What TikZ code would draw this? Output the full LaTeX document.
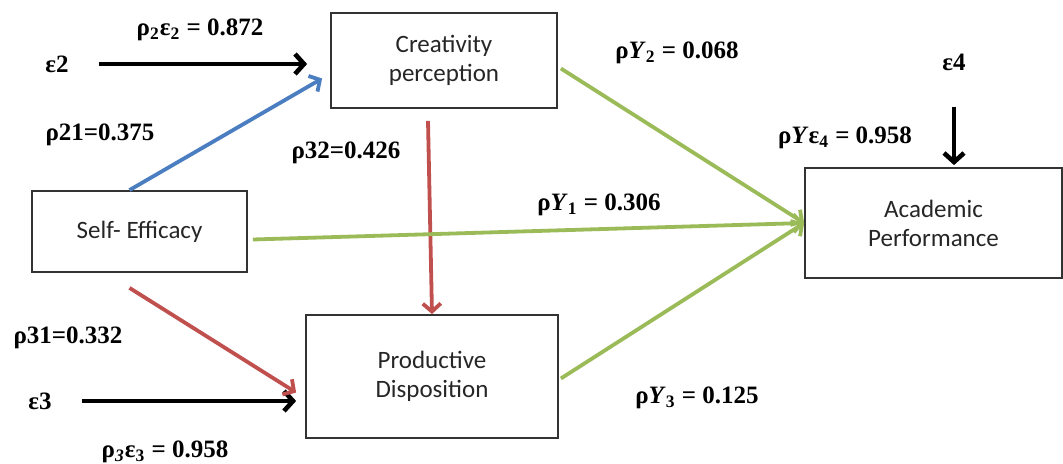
\documentclass[tikz,border=0pt]{standalone}
\usepackage{fontspec}
\setmainfont{Liberation Serif}
\newfontfamily\boxfont{Carlito}
\usetikzlibrary{arrows.meta,calc,positioning}

\definecolor{pathblue}{RGB}{74,126,193}
\definecolor{pathred}{RGB}{192,80,77}
\definecolor{pathgreen}{RGB}{155,187,89}

\tikzset{
  box/.style={draw=black!80, line width=0.9pt, inner sep=0pt, align=center,
    font=\boxfont\fontsize{12.5}{14.5}\selectfont, text=black!85},
  coef/.style={font=\bfseries\fontsize{12.5}{14}\selectfont, inner sep=0pt},
  blk/.style={line width=2.3pt, -{Straight Barb[length=4.5pt,width=10pt]}},
  link/.style={line width=1.9pt, -{Straight Barb[length=4pt,width=9pt]}},
}

\begin{document}
\begin{tikzpicture}[x=0.5pt, y=-0.5pt]
  \useasboundingbox (0,0) rectangle (1063,464);
  \node[box, minimum width=113pt, minimum height=47.5pt] (cp) at (444,60.5) {Creativity\\perception};
  \node[box, minimum width=107.5pt, minimum height=40.5pt] (se) at (139.5,231.5) {Self- Efficacy};
  \node[box, minimum width=126pt, minimum height=61.5pt] (pd) at (432,376.5) {Productive\\Disposition};
  \node[box, minimum width=128.5pt, minimum height=55pt] (ap) at (933.5,223) {Academic\\Performance};
%
  \node[coef] (e2) at (57,64) {ε2};
  \node[coef] (e3) at (40,401) {ε3};
  \node[coef] (e4) at (954,62) {ε4};
%
  \node[coef] (l22) at (200,30) {ρ\textsubscript{2}ε\textsubscript{2} = 0.872};
  \node[coef] (l21) at (100,135) {ρ21=0.375};
  \node[coef] (l32) at (346,153) {ρ32=0.426};
  \node[coef] (l31) at (68,338) {ρ31=0.332};
  \node[coef] (l33) at (165,452) {ρ\textsubscript{\itshape 3}ε\textsubscript{3} = 0.958};
  \node[coef] (ly2) at (677,53) {ρ\textit{Y}\textsubscript{2} = 0.068};
  \node[coef] (ly1) at (599,205) {ρ\textit{Y}\textsubscript{1} = 0.306};
  \node[coef] (ly3) at (697,398) {ρ\textit{Y}\textsubscript{3} = 0.125};
  \node[coef] (ly4) at (845,138) {ρ\textit{Y}ε\textsubscript{4} = 0.958};
%
  \draw[blk, shorten <=30pt/2, shorten >=23pt/2] (e2) -- (e2 -| cp.west);
  \draw[blk, shorten <=30pt/2, shorten >=9pt/2] (e3) -- (e3 -| pd.west);
  \draw[blk, shorten <=36pt/2, shorten >=1pt] (e4) -- (e4 |- ap.north);
%
  \draw[link, pathblue] ($(se.north)+(-10,0)$) -- ($(cp.west)+(-8,18)$);
  \draw[link, pathred] ($(cp.south)+(-16,12)$) -- (pd.north);
  \draw[link, pathred] ($(se.south)+(-10,15)$) -- ($(pd.west)+(-9,16)$);
  \draw[link, pathgreen] ($(se.east)+(5,8)$) -- (ap.west);
  \draw[link, pathgreen] ($(cp.east)+(3,8)$) -- (ap.west);
  \draw[link, pathgreen] ($(pd.east)+(2,2)$) -- (ap.west);
\end{tikzpicture}
\end{document}
